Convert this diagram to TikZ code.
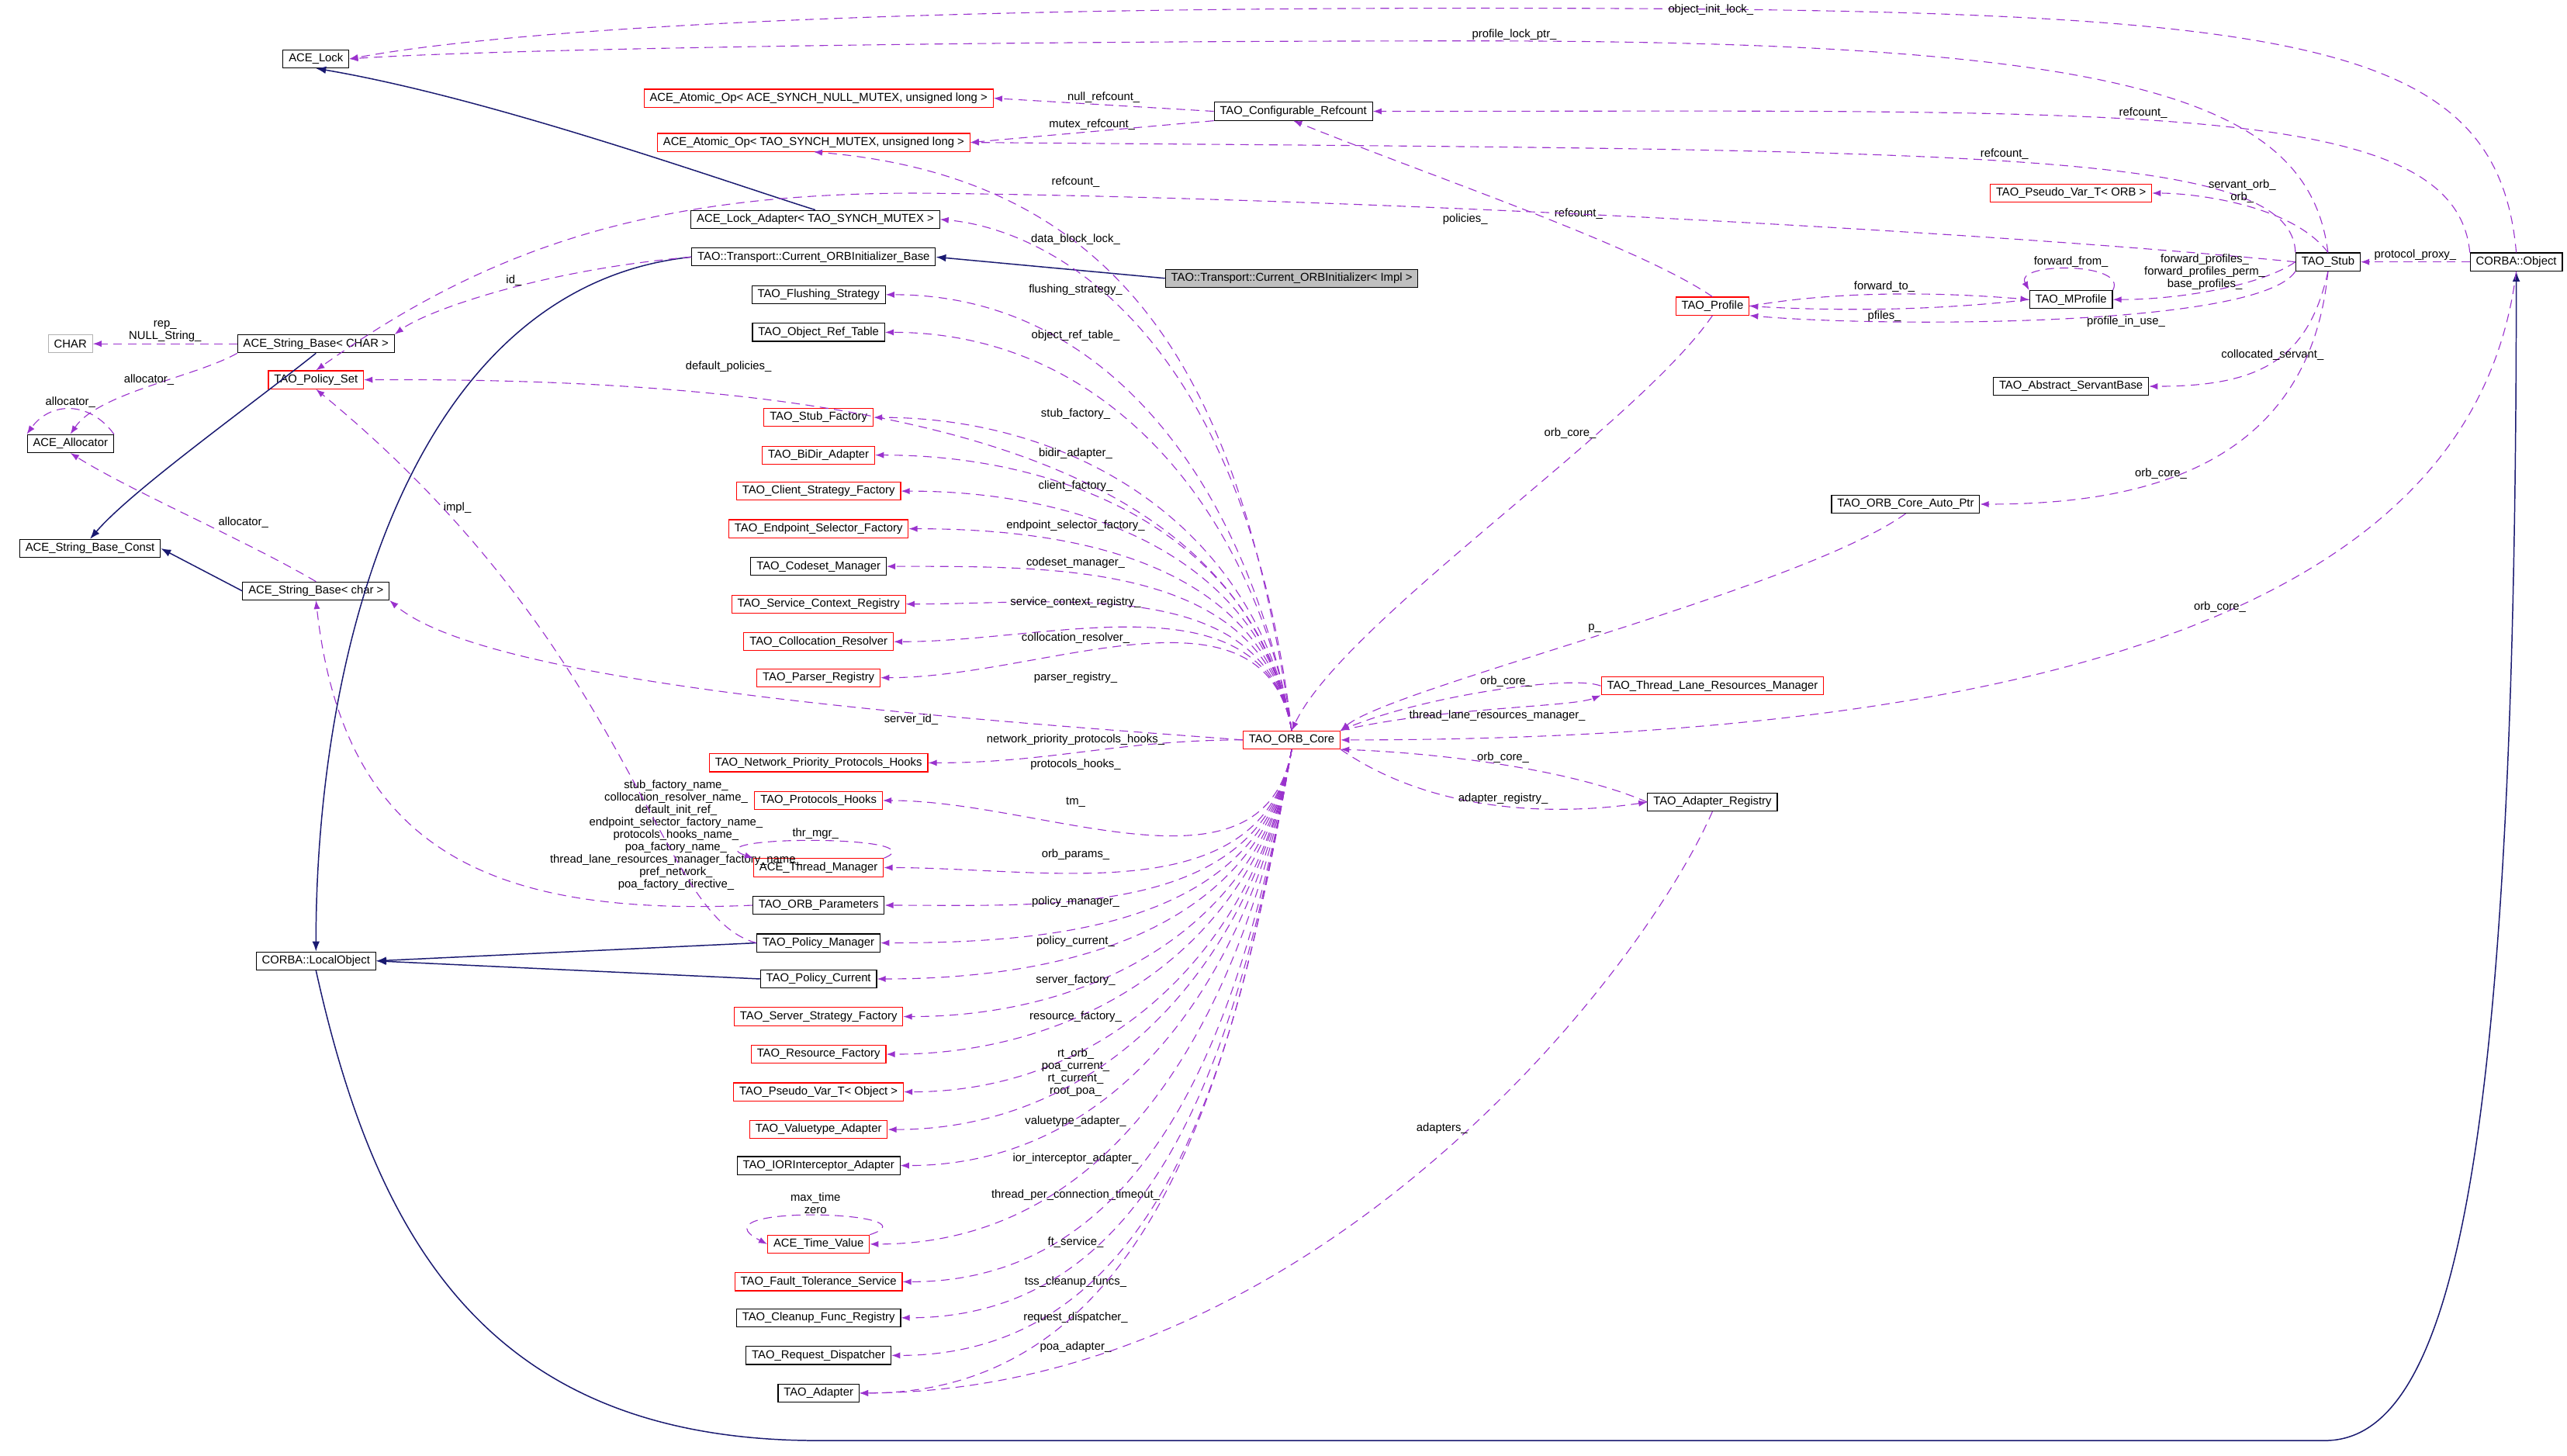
\documentclass[tikz,border=0pt]{standalone}
\usepackage{fontspec}
\setmainfont{Liberation Sans}
\usetikzlibrary{arrows.meta}
\definecolor{usecol}{HTML}{9A32CD}
\definecolor{inhcol}{HTML}{191970}
\tikzset{
  cls/.style={draw=black, line width=0.3pt, fill=white, inner xsep=2pt, inner ysep=1pt,
    minimum height=0.22cm, font=\fontsize{4}{4.5}\selectfont},
  redcls/.style={cls, draw=red},
  graycls/.style={cls, draw=gray!60},
  usearr/.style={draw=usecol, densely dashed, line width=0.3pt, -{Latex[length=3pt,width=2.2pt]}},
  inharr/.style={draw=inhcol, line width=0.4pt, -{Latex[length=3.5pt,width=2.6pt]}},
  lbl/.style={font=\fontsize{4}{4.3}\selectfont, align=center, inner sep=0.5pt}
}
\begin{document}
\begin{tikzpicture}[x=0.02cm, y=-0.02cm]
    \useasboundingbox (0,0) rectangle (1568,889);

    % classes on the left
    \node[cls] (lock) at (193,36) {ACE\_Lock};
    \node[graycls] (chr) at (43,210) {CHAR};
    \node[cls] (strchar) at (193,210) {ACE\_String\_Base< CHAR >};
    \node[redcls] (polset) at (193,232) {TAO\_Policy\_Set};
    \node[cls] (alloc) at (43,271) {ACE\_Allocator};
    \node[cls] (strconst) at (55,335) {ACE\_String\_Base\_Const};
    \node[cls] (strc) at (193,361) {ACE\_String\_Base< char >};
    \node[cls] (localobj) at (193,587) {CORBA::LocalObject};

    % middle column
    \node[redcls] (atomicnull) at (500,60) {ACE\_Atomic\_Op< ACE\_SYNCH\_NULL\_MUTEX, unsigned long >};
    \node[redcls] (atomicmtx) at (497,87) {ACE\_Atomic\_Op< TAO\_SYNCH\_MUTEX, unsigned long >};
    \node[cls] (lockadp) at (498,134) {ACE\_Lock\_Adapter< TAO\_SYNCH\_MUTEX >};
    \node[cls] (initbase) at (497,157) {TAO::Transport::Current\_ORBInitializer\_Base};
    \node[cls] (flush) at (500,180) {TAO\_Flushing\_Strategy};
    \node[cls] (ortable) at (500,203) {TAO\_Object\_Ref\_Table};
    \node[redcls] (stubfac) at (500,255) {TAO\_Stub\_Factory};
    \node[redcls] (bidir) at (500,278) {TAO\_BiDir\_Adapter};
    \node[redcls] (clifac) at (500,300) {TAO\_Client\_Strategy\_Factory};
    \node[redcls] (endsel) at (500,323) {TAO\_Endpoint\_Selector\_Factory};
    \node[cls] (codeset) at (500,346) {TAO\_Codeset\_Manager};
    \node[redcls] (svcctx) at (500,369) {TAO\_Service\_Context\_Registry};
    \node[redcls] (colres) at (500,392) {TAO\_Collocation\_Resolver};
    \node[redcls] (parser) at (500,414) {TAO\_Parser\_Registry};
    \node[redcls] (netprio) at (500,466) {TAO\_Network\_Priority\_Protocols\_Hooks};
    \node[redcls] (prothooks) at (500,489) {TAO\_Protocols\_Hooks};
    \node[redcls] (thrmgr) at (500,530) {ACE\_Thread\_Manager};
    \node[cls] (orbparams) at (500,553) {TAO\_ORB\_Parameters};
    \node[cls] (polmgr) at (500,576) {TAO\_Policy\_Manager};
    \node[cls] (polcur) at (500,598) {TAO\_Policy\_Current};
    \node[redcls] (srvfac) at (500,621) {TAO\_Server\_Strategy\_Factory};
    \node[redcls] (resfac) at (500,644) {TAO\_Resource\_Factory};
    \node[redcls] (pvobj) at (500,667) {TAO\_Pseudo\_Var\_T< Object >};
    \node[redcls] (valtype) at (500,690) {TAO\_Valuetype\_Adapter};
    \node[cls] (iorint) at (500,712) {TAO\_IORInterceptor\_Adapter};
    \node[redcls] (timev) at (500,760) {ACE\_Time\_Value};
    \node[redcls] (ft) at (500,783) {TAO\_Fault\_Tolerance\_Service};
    \node[cls] (cleanup) at (500,805) {TAO\_Cleanup\_Func\_Registry};
    \node[cls] (reqdisp) at (500,828) {TAO\_Request\_Dispatcher};
    \node[cls] (adapter) at (500,851) {TAO\_Adapter};

    % right part
    \node[cls] (cfgref) at (790,68) {TAO\_Configurable\_Refcount};
    \node[cls, fill=gray!50] (initimpl) at (789,170) {TAO::Transport::Current\_ORBInitializer< Impl >};
    \node[redcls] (core) at (789,452) {TAO\_ORB\_Core};
    \node[redcls] (profile) at (1046,187) {TAO\_Profile};
    \node[redcls] (tlrm) at (1046,419) {TAO\_Thread\_Lane\_Resources\_Manager};
    \node[cls] (adreg) at (1046,490) {TAO\_Adapter\_Registry};
    \node[cls] (autoptr) at (1164,308) {TAO\_ORB\_Core\_Auto\_Ptr};
    \node[redcls] (pvorb) at (1265,118) {TAO\_Pseudo\_Var\_T< ORB >};
    \node[cls] (mprofile) at (1265,183) {TAO\_MProfile};
    \node[cls] (servant) at (1265,236) {TAO\_Abstract\_ServantBase};
    \node[cls] (stub) at (1422,160) {TAO\_Stub};
    \node[cls] (cobj) at (1537,160) {CORBA::Object};

    % inheritance
    \draw[inharr] (lockadp.north) .. controls (440,110) and (300,60) .. (lock.south);
    \draw[inharr] (initimpl.west) -- (initbase.east);
    \draw[inharr] (initbase.west) .. controls (250,175) and (193,400) .. (localobj.north);
    \draw[inharr] (strchar.south) .. controls (150,250) and (80,300) .. (strconst.north);
    \draw[inharr] (strc.west) -- (strconst.east);
    \draw[inharr] (polmgr.west) -- (localobj.east);
    \draw[inharr] (polcur.west) -- (localobj.east);
    \draw[inharr] (localobj.south) .. controls (230,760) and (300,880) .. (500,880)
      -- (1420,880) .. controls (1500,880) and (1537,700) .. (cobj.south);

    % usage, top area
    \draw[usearr] (cobj.north) .. controls (1525,20) and (1400,5) .. (900,5)
      .. controls (500,5) and (300,20) .. (lock.east);
    \node[lbl] at (1045,6) {object\_init\_lock\_};
    \draw[usearr] (stub.north) .. controls (1410,60) and (1300,25) .. (900,25)
      .. controls (600,25) and (300,30) .. (lock.east);
    \node[lbl] at (925,21) {profile\_lock\_ptr\_};
    \draw[usearr] (cfgref.west) -- (atomicnull.east) node[lbl, midway, above] {null\_refcount\_};
    \draw[usearr] (cfgref.south west) -- (atomicmtx.east) node[lbl, midway, above] {mutex\_refcount\_};
    \draw[usearr] (cobj.north west) .. controls (1500,60) and (1300,68) .. (cfgref.east) node[lbl, pos=0.55, above] {refcount\_};
    \draw[usearr] (profile.north) .. controls (1000,150) and (880,110) .. (cfgref.south) node[lbl, pos=0.45, above right] {refcount\_};
    \draw[usearr] (stub.north west) .. controls (1400,90) and (1200,92) .. (atomicmtx.east) node[lbl, pos=0.5, above] {refcount\_};
    \draw[usearr] (core.north) .. controls (760,250) and (700,110) .. (atomicmtx.south);
    \node[lbl] at (657,111) {refcount\_};
    \draw[usearr] (stub.north) .. controls (1400,125) and (1340,118) .. (pvorb.east) node[lbl, pos=0.5, above] {servant\_orb\_\\orb\_};
    \draw[usearr] (stub.west) .. controls (1200,140) and (800,120) .. (560,118)
      .. controls (400,118) and (300,150) .. (polset.north);
    \node[lbl] at (895,134) {policies\_};
    \draw[usearr] (cobj.west) -- (stub.east) node[lbl, midway, above] {protocol\_proxy\_};
    \draw[usearr] (core.north) .. controls (760,200) and (640,140) .. (lockadp.east);
    \node[lbl] at (657,146) {data\_block\_lock\_};
    \draw[usearr] (initbase.west) .. controls (330,165) and (260,190) .. (strchar.north east) node[lbl, pos=0.45, above] {id\_};

    % usage, profiles and stub
    \draw[usearr] (profile.east) .. controls (1120,178) and (1180,178) .. (mprofile.west) node[lbl, midway, above] {forward\_to\_};
    \draw[usearr] (mprofile.west) .. controls (1180,190) and (1120,190) .. (profile.east) node[lbl, midway, below] {pfiles\_};
    \draw[usearr] (mprofile.north east) .. controls (1300,160) and (1230,160) .. (mprofile.north west) node[lbl, midway, above] {forward\_from\_};
    \draw[usearr] (stub.west) .. controls (1380,175) and (1330,183) .. (mprofile.east) node[lbl, pos=0.55, above] {forward\_profiles\_\\forward\_profiles\_perm\_\\base\_profiles\_};
    \draw[usearr] (stub.south west) .. controls (1380,200) and (1150,200) .. (profile.south east) node[lbl, pos=0.4, below] {profile\_in\_use\_};
    \draw[usearr] (stub.south) .. controls (1410,220) and (1380,236) .. (servant.east) node[lbl, pos=0.5, above] {collocated\_servant\_};
    \draw[usearr] (stub.south) .. controls (1410,290) and (1300,308) .. (autoptr.east) node[lbl, pos=0.6, above] {orb\_core\_};
    \draw[usearr] (profile.south) .. controls (1000,260) and (820,380) .. (core.north) node[lbl, pos=0.3, left] {orb\_core\_};
    \draw[usearr] (autoptr.south) .. controls (1100,360) and (850,420) .. (core.north east) node[lbl, pos=0.5, above left] {p\_};

    % usage, strings
    \draw[usearr] (strchar.west) -- (chr.east) node[lbl, midway, above] {rep\_\\NULL\_String\_};
    \draw[usearr] (strchar.south west) .. controls (120,230) and (60,240) .. (alloc.north) node[lbl, pos=0.5, above] {allocator\_};
    \draw[usearr] (alloc.north east) .. controls (55,245) and (31,245) .. (alloc.north west) node[lbl, midway, above] {allocator\_};
    \draw[usearr] (strc.north) .. controls (150,330) and (80,300) .. (alloc.south) node[lbl, pos=0.4, above right] {allocator\_};
    \draw[usearr] (orbparams.west) .. controls (300,560) and (210,520) .. (strc.south) node[lbl, pos=0.3, above right] {stub\_factory\_name\_\\collocation\_resolver\_name\_\\default\_init\_ref\_\\endpoint\_selector\_factory\_name\_\\protocols\_hooks\_name\_\\poa\_factory\_name\_\\thread\_lane\_resources\_manager\_factory\_name\_\\pref\_network\_\\poa\_factory\_directive\_};
    \draw[usearr] (core.west) .. controls (600,440) and (300,420) .. (strc.south east) node[lbl, pos=0.35, below] {server\_id\_};
    \draw[usearr] (polmgr.west) .. controls (400,560) and (390,400) .. (polset.south) node[lbl, pos=0.85, right] {impl\_};
    \draw[usearr] (core.north) .. controls (760,300) and (600,230) .. (polset.east);
    \node[lbl] at (445,224) {default\_policies\_};

    % usage, orb core members on the left
    \foreach \t/\l/\ly in {flush/flushing\_strategy\_/177, ortable/object\_ref\_table\_/205,
        stubfac/stub\_factory\_/253, bidir/bidir\_adapter\_/277, clifac/client\_factory\_/297,
        endsel/endpoint\_selector\_factory\_/321, codeset/codeset\_manager\_/344,
        svcctx/service\_context\_registry\_/368, colres/collocation\_resolver\_/390,
        parser/parser\_registry\_/414} {
      \draw[usearr] (core.north) to[out=100, in=0] (\t.east);
      \node[lbl] at (657,\ly) {\l};
    }
    \draw[usearr] (core.west) to[out=180, in=0] (netprio.east);
    \node[lbl] at (657,452) {network\_priority\_protocols\_hooks\_};
    \foreach \t/\l/\ly in {prothooks/protocols\_hooks\_/467, thrmgr/tm\_/490, orbparams/orb\_params\_/522,
        polmgr/policy\_manager\_/551, polcur/policy\_current\_/575, srvfac/server\_factory\_/599,
        resfac/resource\_factory\_/621, pvobj/{rt\_orb\_\\poa\_current\_\\rt\_current\_\\root\_poa\_}/655,
        valtype/valuetype\_adapter\_/685, iorint/ior\_interceptor\_adapter\_/708,
        timev/thread\_per\_connection\_timeout\_/730, ft/ft\_service\_/759,
        cleanup/tss\_cleanup\_funcs\_/783, reqdisp/request\_dispatcher\_/805,
        adapter/poa\_adapter\_/823} {
      \draw[usearr] (core.south) to[out=260, in=0] (\t.east);
      \node[lbl] at (657,\ly) {\l};
    }
    \draw[usearr] (thrmgr.north east) .. controls (575,510) and (420,510) .. (thrmgr.north west) node[lbl, midway, above] {thr\_mgr\_};
    \draw[usearr] (timev.north east) .. controls (575,740) and (420,735) .. (timev.west) node[lbl, midway, above] {max\_time\\zero};

    % usage, orb core on the right
    \draw[usearr] (tlrm.west) .. controls (960,412) and (870,425) .. (core.north east) node[lbl, pos=0.45, above] {orb\_core\_};
    \draw[usearr] (core.north east) .. controls (880,432) and (960,432) .. (tlrm.south west) node[lbl, pos=0.5, below] {thread\_lane\_resources\_manager\_};
    \draw[usearr] (cobj.south) .. controls (1520,300) and (1400,452) .. (core.east) node[lbl, pos=0.55, above] {orb\_core\_};
    \draw[usearr] (adreg.west) .. controls (960,470) and (880,460) .. (core.south east) node[lbl, pos=0.5, above] {orb\_core\_};
    \draw[usearr] (core.south east) .. controls (880,500) and (960,497) .. (adreg.west) node[lbl, pos=0.5, above] {adapter\_registry\_};
    \draw[usearr] (adreg.south) .. controls (1000,600) and (800,850) .. (adapter.east) node[lbl, pos=0.45, left] {adapters\_};
\end{tikzpicture}
\end{document}
